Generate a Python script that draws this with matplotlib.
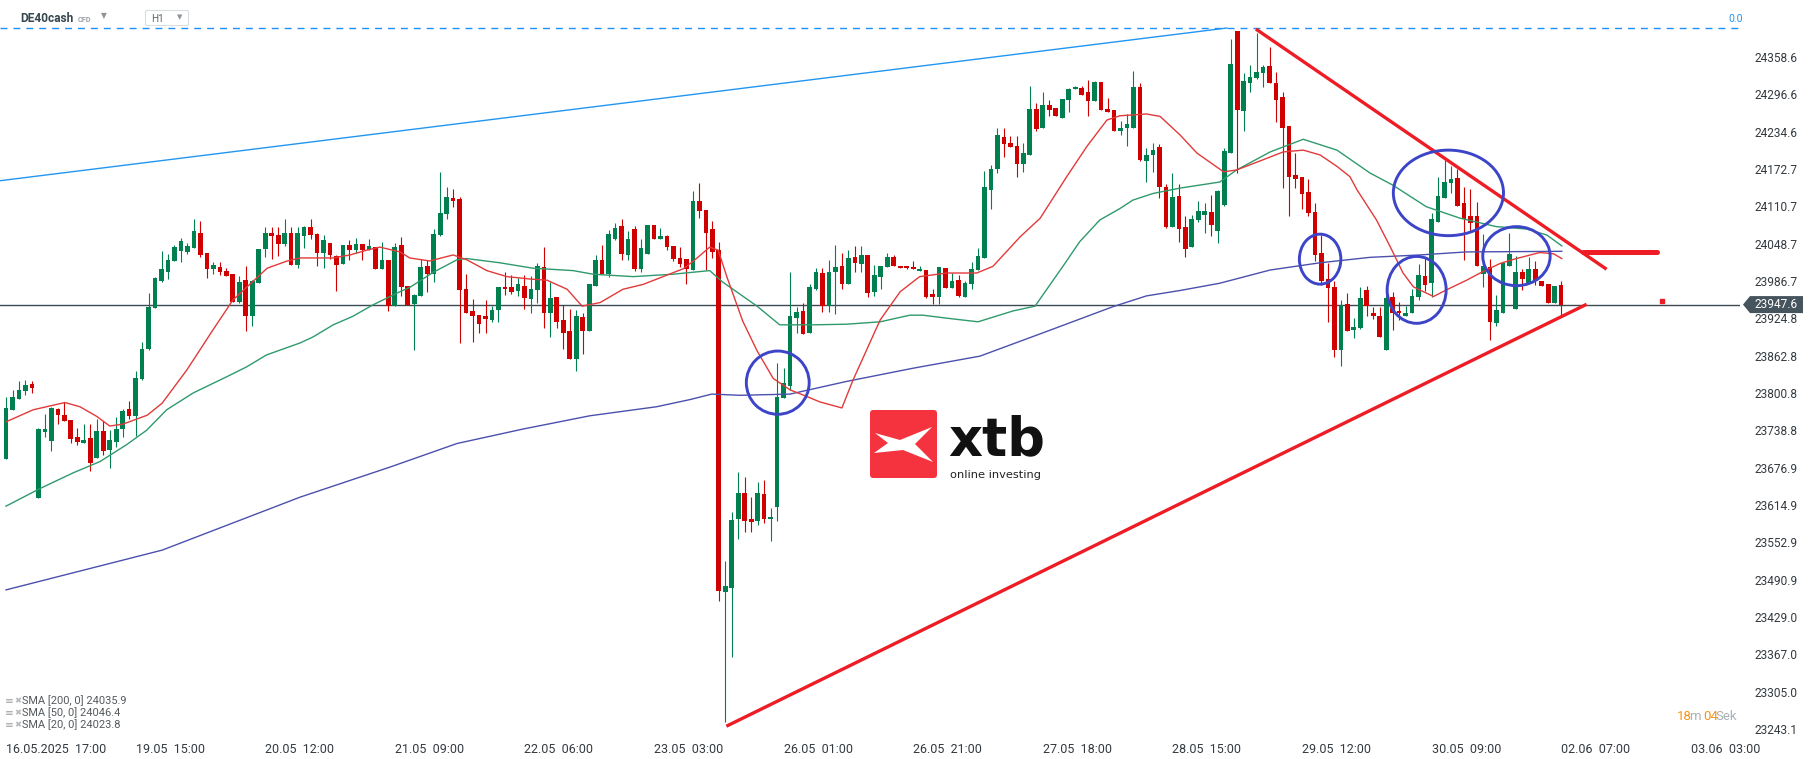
import matplotlib
matplotlib.use("Agg")
import matplotlib.pyplot as plt
from matplotlib.patches import Ellipse, Polygon, Rectangle, FancyBboxPatch

plt.rcParams['font.family'] = ['Roboto', 'DejaVu Sans']

W, H = 1815, 759

# hourly candles DE40cash, 16.05 17:00 -> 02.06
opens = [
    23692, 23773, 23791, 23804, 23816, 23627, 23736, 23721, 23774, 23764,
    23756, 23728, 23718, 23726, 23693, 23738, 23706, 23720, 23741, 23774,
    23763, 23824, 23874, 23942, 23987, 24002, 24020, 24037, 24035, 24042,
    24066, 24033, 24007, 24010, 24003, 23998, 23952, 23988, 23929, 23983,
    24040, 24066, 24063, 24048, 24066, 24013, 24061, 24076, 24065, 24033,
    24050, 24028, 24015, 24047, 24038, 24048, 24038, 24043, 24007, 24022,
    23945, 24046, 23978, 23949, 23962, 24012, 23998, 24063, 24098, 24125,
    24123, 23974, 23937, 23931, 23929, 23922, 23939, 23977, 23977, 23970,
    23979, 23957, 23971, 24010, 23934, 23961, 23922, 23903, 23857, 23927,
    23903, 23979, 24022, 23999, 24057, 24078, 24030, 24073, 24007, 24032,
    24079, 24057, 24062, 24045, 24025, 24023, 24005, 24120, 24105, 24073,
    24038, 23470, 23477, 23592, 23635, 23592, 23589, 23633, 23592, 23612,
    23793, 23813, 23925, 23937, 23901, 23973, 24000, 23945, 24001, 24012,
    23981, 24026, 24015, 24030, 23969, 23994, 24010, 24026, 24012, 24011,
    24010, 24003, 24005, 23965, 23961, 24008, 23975, 23988, 23961, 23981,
    24005, 24025, 24137, 24173, 24226, 24215, 24211, 24181, 24196, 24273,
    24241, 24279, 24274, 24258, 24287, 24305, 24307, 24301, 24286, 24317,
    24273, 24271, 24235, 24240, 24241, 24309, 24186, 24196, 24209, 24142,
    24077, 24128, 24077, 24044, 24088, 24096, 24102, 24069, 24113, 24200,
    24402, 24269, 24315, 24324, 24332, 24344, 24316, 24293, 24244, 24163,
    24160, 24134, 24101, 24033, 23990, 23977, 23873, 23948, 23905, 23908,
    23972, 23933, 23929, 23872, 23961, 23937, 23928, 23934, 23961, 23995,
    23983, 24085, 24125, 24150, 24157, 24116, 24094, 24095, 23998, 24010,
    23917, 23934, 24012, 23940, 24001, 23983, 24006, 23987, 23982, 23951,
    23980,
]
highs = [
    23795, 23806, 23821, 23822, 23821, 23743, 23766, 23778, 23776, 23786,
    23756, 23743, 23749, 23749, 23758, 23754, 23739, 23761, 23774, 23788,
    23837, 23886, 23967, 23993, 24037, 24032, 24047, 24058, 24050, 24090,
    24086, 24033, 24018, 24018, 24008, 23998, 23995, 24012, 23988, 24040,
    24076, 24076, 24076, 24090, 24076, 24076, 24078, 24090, 24066, 24063,
    24050, 24030, 24047, 24055, 24058, 24048, 24057, 24043, 24052, 24022,
    24050, 24060, 23978, 23965, 24024, 24022, 24073, 24168, 24143, 24140,
    24126, 23999, 23957, 23931, 23955, 23945, 23977, 24002, 23996, 23992,
    23996, 23995, 24017, 24043, 23985, 23961, 23947, 23940, 23938, 23934,
    23982, 24030, 24046, 24071, 24083, 24089, 24070, 24078, 24057, 24079,
    24079, 24075, 24063, 24045, 24043, 24023, 24136, 24149, 24105, 24087,
    24052, 23522, 23604, 23669, 23661, 23629, 23653, 23657, 23610, 23851,
    23842, 24001, 23944, 23950, 23981, 24008, 24008, 24022, 24047, 24033,
    24038, 24045, 24045, 24030, 24013, 24012, 24033, 24030, 24012, 24011,
    24020, 24012, 24005, 23973, 24010, 24008, 24000, 23997, 23986, 24019,
    24041, 24169, 24179, 24240, 24240, 24227, 24227, 24215, 24310, 24282,
    24301, 24288, 24274, 24289, 24307, 24310, 24310, 24320, 24318, 24317,
    24291, 24271, 24252, 24264, 24335, 24315, 24208, 24215, 24214, 24148,
    24166, 24148, 24094, 24096, 24120, 24117, 24130, 24138, 24208, 24389,
    24402, 24332, 24345, 24398, 24345, 24376, 24333, 24301, 24244, 24200,
    24160, 24156, 24116, 24063, 24016, 23986, 23955, 23966, 23926, 23976,
    23979, 23944, 23944, 23975, 23968, 23952, 23945, 23973, 24015, 24027,
    24099, 24159, 24188, 24178, 24173, 24142, 24139, 24118, 24064, 24024,
    23964, 24016, 24066, 24028, 24006, 24027, 24020, 23987, 23982, 23978,
    23986,
]
lows = [
    23692, 23773, 23791, 23797, 23801, 23627, 23728, 23705, 23749, 23754,
    23718, 23715, 23718, 23671, 23693, 23698, 23676, 23711, 23728, 23758,
    23729, 23822, 23872, 23942, 23985, 23990, 24020, 24018, 24032, 24042,
    24027, 23992, 23998, 23997, 23995, 23952, 23950, 23904, 23912, 23983,
    24027, 24023, 24028, 24045, 24013, 24008, 24042, 24057, 24012, 24008,
    24023, 23970, 24015, 24022, 24033, 24022, 24038, 24007, 24007, 23937,
    23945, 23962, 23947, 23872, 23962, 23969, 23985, 24062, 24089, 24110,
    23884, 23933, 23885, 23900, 23900, 23919, 23919, 23964, 23965, 23962,
    23940, 23933, 23950, 23909, 23893, 23909, 23874, 23857, 23837, 23866,
    23903, 23979, 23998, 23993, 24055, 24021, 24021, 24004, 24001, 24032,
    24057, 24057, 24038, 24020, 24010, 23982, 24005, 24091, 24005, 24025,
    23456, 23254, 23362, 23558, 23570, 23570, 23581, 23585, 23555, 23589,
    23793, 23806, 23901, 23898, 23901, 23972, 23936, 23936, 23932, 23973,
    23981, 24002, 24002, 23960, 23962, 23973, 24010, 24012, 24008, 24007,
    24006, 24003, 23958, 23948, 23948, 23975, 23975, 23960, 23961, 23973,
    24005, 24025, 24107, 24166, 24193, 24210, 24160, 24167, 24196, 24236,
    24241, 24260, 24260, 24258, 24267, 24305, 24296, 24260, 24286, 24271,
    24267, 24235, 24229, 24211, 24241, 24186, 24151, 24168, 24125, 24074,
    24077, 24052, 24027, 24044, 24085, 24066, 24061, 24049, 24112, 24200,
    24166, 24235, 24301, 24322, 24308, 24315, 24251, 24141, 24094, 24141,
    24107, 24095, 24020, 23980, 23919, 23860, 23846, 23903, 23892, 23907,
    23928, 23924, 23893, 23872, 23905, 23922, 23928, 23933, 23956, 23970,
    23961, 24085, 24125, 24133, 24111, 24022, 24069, 24012, 23976, 23889,
    23912, 23934, 24012, 23940, 23971, 23983, 23980, 23979, 23950, 23950,
    23930,
]
closes = [
    23776, 23794, 23806, 23814, 23809, 23741, 23741, 23776, 23764, 23754,
    23725, 23720, 23723, 23685, 23738, 23705, 23723, 23741, 23771, 23763,
    23826, 23874, 23944, 23992, 24007, 24022, 24043, 24053, 24045, 24070,
    24030, 24007, 24013, 24002, 23995, 23952, 23985, 23929, 23987, 24040,
    24066, 24061, 24048, 24066, 24013, 24066, 24076, 24063, 24033, 24055,
    24030, 24013, 24047, 24038, 24048, 24038, 24045, 24007, 24022, 23945,
    24043, 23976, 23947, 23964, 24010, 23998, 24065, 24100, 24126, 24120,
    23972, 23934, 23928, 23915, 23924, 23939, 23976, 23974, 23968, 23981,
    23959, 23973, 24012, 23933, 23959, 23919, 23900, 23857, 23929, 23903,
    23982, 24021, 23998, 24064, 24075, 24032, 24057, 24007, 24041, 24079,
    24057, 24062, 24043, 24024, 24015, 24006, 24120, 24103, 24067, 24035,
    23472, 23480, 23590, 23635, 23589, 23587, 23635, 23592, 23595, 23794,
    23817, 23928, 23935, 23898, 23977, 24001, 23946, 24001, 24010, 23981,
    24025, 24016, 24030, 23966, 23997, 24012, 24026, 24012, 24009, 24008,
    24006, 24007, 23961, 23961, 24010, 23975, 23987, 23962, 23984, 24006,
    24028, 24142, 24173, 24229, 24214, 24210, 24181, 24199, 24272, 24239,
    24279, 24271, 24260, 24289, 24306, 24308, 24296, 24286, 24317, 24271,
    24267, 24235, 24241, 24247, 24308, 24188, 24196, 24205, 24142, 24077,
    24127, 24073, 24040, 24090, 24103, 24103, 24080, 24136, 24203, 24347,
    24271, 24319, 24325, 24333, 24342, 24316, 24288, 24240, 24160, 24156,
    24131, 24099, 24030, 23987, 23975, 23873, 23947, 23903, 23910, 23958,
    23945, 23928, 23893, 23958, 23934, 23933, 23934, 23962, 23997, 23980,
    24090, 24128, 24151, 24156, 24111, 24089, 24083, 24012, 24011, 23918,
    23939, 24016, 24032, 24002, 23990, 24006, 23986, 23979, 23950, 23978,
    23947.6,
]
last_price = 23947.6

# moving averages (candle index, value)
sma20_idx = [0, 4.2, 9.1, 11.4, 14, 16, 18, 21.8, 24.1, 27.9, 31.9, 35, 38.1, 40.3, 43.4,
             45.4, 50.5, 53.1, 55.7, 57.7, 60.8, 62.3, 65.4, 69, 71.1, 74.2, 77.3, 80.9,
             83.5, 86.6, 88.9, 91.7, 95.2, 98.3, 101.4, 104.5, 106, 108.6, 109.9, 111.3,
             113.7, 115.9, 118.4, 121, 123.6, 125.6, 129, 130.7, 134.9, 138, 141, 145.2,
             149.8, 152.3, 156.5, 159.6, 163.7, 166.8, 169.9, 171.9, 176, 178.1, 181.2,
             183.8, 187.9, 189.9, 194, 197.1, 200.2, 202.8, 205.4, 207.4, 208.5, 211.5,
             213.6, 215.6, 217.2, 220.3, 222.3, 225.4, 227.5, 230.6, 233.1, 236.7, 238.8, 240.1]
sma20_val = [23753, 23773, 23785, 23778, 23762, 23746, 23749, 23764, 23784, 23839, 23905,
             23955, 23986, 24008, 24020, 24025, 24025, 24030, 24038, 24043, 24035, 24025,
             24020, 24030, 24022, 24004, 23994, 23990, 23988, 23973, 23945, 23951, 23973,
             23981, 23994, 24007, 24019, 24043, 24038, 23992, 23920, 23871, 23825, 23806,
             23795, 23786, 23776, 23822, 23922, 23969, 23994, 24000, 24000, 24011, 24060,
             24091, 24160, 24210, 24254, 24261, 24264, 24260, 24229, 24199, 24168, 24171,
             24188, 24201, 24204, 24196, 24177, 24160, 24138, 24088, 24044, 24000, 23977,
             23961, 23972, 23988, 24000, 24016, 24024, 24034, 24032, 24024]

sma50_idx = [0, 5.2, 10.3, 14.5, 18.6, 21.7, 24.8, 28.9, 34.1, 37.1, 40.2, 45.4, 47.4, 50.5,
             53.5, 56.6, 60.8, 62.3, 65.9, 69.6, 71.1, 76.2, 81.3, 87.5, 90.6, 96.8, 102.9,
             108.6, 110.6, 115.9, 119.4, 124.5, 129.7, 134.9, 139.5, 141.5, 145.2, 150,
             155.4, 158.8, 163.1, 165.7, 168.8, 171.9, 173.9, 177, 181.2, 187.3, 189.9,
             195.1, 200.2, 205.4, 210.5, 214, 219.2, 224.4, 230, 234.7, 237.8, 240.1]
sma50_val = [23613, 23642, 23668, 23687, 23715, 23739, 23773, 23801, 23828, 23844, 23864,
             23884, 23894, 23914, 23928, 23947, 23969, 23976, 24001, 24022, 24024, 24017,
             24008, 24004, 23998, 23994, 23998, 24004, 23985, 23945, 23914, 23914, 23915,
             23919, 23930, 23930, 23925, 23919, 23937, 23945, 24011, 24052, 24088, 24107,
             24121, 24132, 24141, 24151, 24171, 24201, 24222, 24204, 24166, 24146, 24110,
             24091, 24077, 24073, 24063, 24045]

sma200_idx = [0, 24.1, 45.4, 59.3, 69.6, 79.8, 90.1, 100.4, 105.6, 108.9, 113.3, 121, 129.7,
              140, 150.3, 160.6, 170.8, 176, 181.2, 187.3, 195.1, 202.8, 210.5, 218.2,
              225.4, 240.1]
sma200_val = [23474, 23540, 23628, 23678, 23717, 23741, 23763, 23778, 23790, 23799, 23797,
              23799, 23820, 23842, 23862, 23903, 23944, 23962, 23971, 23983, 24005, 24017,
              24026, 24030, 24035, 24036]

sma_legend = ["SMA [200, 0] 24035.9", "SMA [50, 0] 24046.4", "SMA [20, 0] 24023.8"]

price_ticks = [24358.6, 24296.6, 24234.6, 24172.7, 24110.7, 24048.7, 23986.7, 23924.8,
               23862.8, 23800.8, 23738.8, 23676.9, 23614.9, 23552.9, 23490.9, 23429.0,
               23367.0, 23305.0, 23243.1]
time_tick_idx = [0, 20, 40, 60, 80, 100, 120, 140, 160, 180, 200, 220, 240, 260]
time_tick_labels = ["16.05.2025  17:00", "19.05  15:00", "20.05  12:00", "21.05  09:00",
                    "22.05  06:00", "23.05  03:00", "26.05  01:00", "26.05  21:00",
                    "27.05  18:00", "28.05  15:00", "29.05  12:00", "30.05  09:00",
                    "02.06  07:00", "03.06  03:00"]

# analyst drawings (candle index, price)
fib_level = 24406.7
channel_line = ([-0.93, 188.4], [24153.2, 24406.7])
upper_trend = ([193.1, 246.8], [24403.4, 24007.8])
lower_trend = ([111.4, 243.7], [23248.9, 23946.9])
arrow_line = ([243.4, 254.8], [24035.4, 24035.4])
marks = [  # centre idx, centre price, width (candles), height (points)
    (119.1, 23818, 9.7, 105),
    (202.8, 24023, 6.4, 83),
    (222.6, 24133, 17.0, 142),
    (217.7, 23972, 9.1, 111),
    (233.1, 24028, 10.4, 98),
]

fig = plt.figure(figsize=(W / 100, H / 100), dpi=100, facecolor='white')
ax = fig.add_axes([0, 19 / H, 1740 / W, 740 / H])
ax.set_facecolor('white')

up_col, down_col = '#00804f', '#d10000'
for i, (o, h, l, c) in enumerate(zip(opens, highs, lows, closes)):
    col = up_col if c >= o else down_col
    ax.vlines(i, l, h, color=col, lw=0.8, zorder=3)
    ax.add_patch(Rectangle((i - 0.36, min(o, c)), 0.72, max(abs(c - o), 1.6),
                           facecolor=col, edgecolor='none', zorder=3))

ax.plot(sma200_idx, sma200_val, color='#4b50ad', lw=1.0, zorder=4)
ax.plot(sma50_idx, sma50_val, color='#2f9a6c', lw=1.0, zorder=4)
ax.plot(sma20_idx, sma20_val, color='#e23a3a', lw=1.0, zorder=4)

ax.axhline(last_price, color='#3d4a54', lw=1.0, zorder=2)
ax.axhline(fib_level, color='#1e8fff', lw=1.0, dashes=(5, 4.3), zorder=2)
ax.plot(*channel_line, color='#2196f3', lw=1.0, zorder=2)
ax.plot(*upper_trend, color='#ee1c25', lw=2.4, zorder=5)
ax.plot(*lower_trend, color='#ee1c25', lw=2.4, zorder=5)
ax.plot(*arrow_line, color='#ee1c25', lw=3.6, solid_capstyle='round', zorder=5)
ax.plot(255.5, 23953, marker='s', ms=3, color='#ee1c25', zorder=5)
for cx, cy, w, h in marks:
    ax.add_patch(Ellipse((cx, cy), w, h, fill=False, edgecolor='#3c45c8', lw=2.1, zorder=6))

ax.set_xlim(-0.93, 267.6)
ax.set_ylim(23224.8, 24453.2)
ax.yaxis.tick_right()
ax.set_yticks(price_ticks)
ax.set_yticklabels([f"{v:.1f}" for v in price_ticks])
ax.set_xticks(time_tick_idx)
ax.set_xticklabels(time_tick_labels, ha='left')
ax.tick_params(axis='y', length=0, pad=10.8, labelsize=8.6, labelcolor='#333a40')
ax.tick_params(axis='x', length=0, pad=2.5, labelsize=9, labelcolor='#333a40')
for s in ax.spines.values():
    s.set_visible(False)

# overlay in pixel coordinates for header, legend, logo, price tag
ov = fig.add_axes([0, 0, 1, 1], zorder=10)
ov.set_xlim(0, W)
ov.set_ylim(H, 0)
ov.axis('off')

ov.text(20, 18, 'DE40cash', fontsize=8.6, fontweight='bold', color='#37474f', va='center')
ov.text(78, 19.5, 'CFD', fontsize=5.3, fontweight='bold', color='#9aa0a6', va='center')
ov.text(101, 16, '▼', fontsize=5.5, color='#8d9399', va='center')
ov.add_patch(FancyBboxPatch((145.5, 10.5), 43, 15, boxstyle='round,pad=0,rounding_size=1.5',
                            facecolor='white', edgecolor='#d9dde0', lw=0.8))
ov.text(151, 19, 'H1', fontsize=7.2, color='#5f666c', va='center')
ov.text(177, 17.5, '▼', fontsize=5, color='#8d9399', va='center')
ov.text(1728, 19, '0.0', fontsize=7.5, color='#2196f3', va='center')

for k, label in enumerate(sma_legend):
    y = 701 + 12 * k
    ov.text(5, y, '≡', fontsize=7.5, color='#a0a0a0', va='center')
    ov.text(14, y, '✖', fontsize=6, color='#b8b8b8', va='center')
    ov.text(22, y, label, fontsize=7.9, color='#555a5e', va='center')

# countdown, pieces chained one after another
renderer = fig.canvas.get_renderer()
x = 1677
for txt, col, gap in [('18', '#f7941d', -3), ('m', '#aab0b5', 3), ('04', '#f7941d', -3),
                      ('Sek', '#aab0b5', 0)]:
    t = ov.text(x, 716, txt, fontsize=9.5, color=col, va='center', ha='left')
    x += t.get_window_extent(renderer).width + gap

# xtb logo
ov.add_patch(FancyBboxPatch((870, 410), 67, 68, boxstyle='round,pad=0,rounding_size=3',
                            facecolor='#f4333f', edgecolor='none'))
ov.add_patch(Polygon([(875, 433), (900, 440), (932, 427), (915, 444), (933, 462),
                      (903, 450), (874, 453), (888, 443)], closed=True,
                     facecolor='white', edgecolor='none'))
ov.text(948, 455, 'xtb', fontsize=38, fontweight='bold', family='DejaVu Sans',
        color='#111111', va='baseline', ha='left')
ov.text(950, 478, 'online investing', fontsize=8.2, family='DejaVu Sans',
        color='#222222', va='baseline', ha='left')

# price tag
ty = H - ax.transData.transform((0, last_price))[1]
ov.add_patch(Polygon([(1743, ty), (1750, ty - 8.5), (1803, ty - 8.5), (1803, ty + 8.5),
                      (1750, ty + 8.5)], closed=True, facecolor='#46545e', edgecolor='none'))
ov.text(1755, ty, f"{last_price:.1f}", fontsize=8.6, color='white', va='center', ha='left')

fig.savefig('out.png', dpi=100, facecolor='white')
